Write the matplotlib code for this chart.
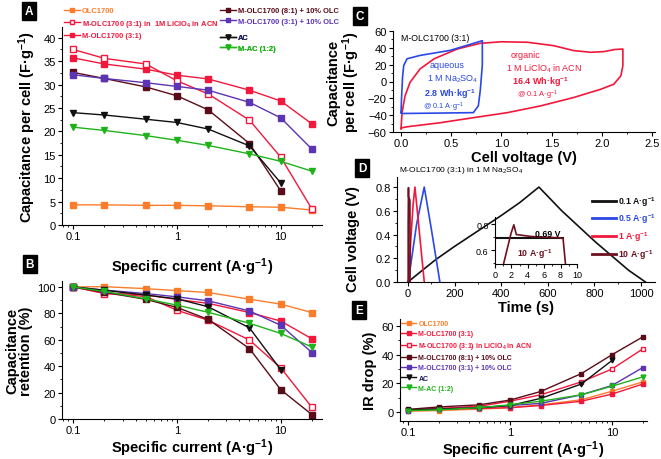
import matplotlib
matplotlib.use("Agg")
import matplotlib.pyplot as plt
from matplotlib.lines import Line2D
from matplotlib.ticker import MultipleLocator, FixedLocator, NullFormatter

plt.rcParams["font.family"] = ["Liberation Sans", "DejaVu Sans"]
plt.rcParams["mathtext.default"] = "regular"

W, H = 661, 460
ORANGE, RED, BROWN, PURPLE = "#fb7d2b", "#f2183c", "#5a0c18", "#5c34b4"
BLACK, GREEN, NAVY = "#111111", "#1fb31a", "#1c1c5c"
BLUE, DRED = "#2a48e6", "#6e1020"

# ---- data ----
current = [0.1, 0.2, 0.5, 1, 2, 5, 10, 20]
names = ["OLC1700", "M-OLC1700 (3:1)", "M-OLC1700 (3:1) in LiClO$_4$ in ACN",
         "M-OLC1700 (8:1) + 10% OLC", "M-OLC1700 (3:1) + 10% OLC", "AC", "M-AC (1:2)"]

capA = {
    "olc": [4.3, 4.3, 4.2, 4.2, 4.1, 3.9, 3.8, 3.2],
    "m31": [35.7, 34.4, 33.3, 32.0, 31.2, 28.8, 26.5, 21.6],
    "m31_org": [37.5, 35.6, 34.4, 30.8, 28.0, 22.4, 14.5, 3.4],
    "m81": [32.6, 31.3, 29.5, 27.6, 24.6, 17.4, 7.3],
    "m31_olc": [32.1, 31.3, 30.4, 29.6, 28.8, 26.2, 22.9, 16.2],
    "ac": [24.0, 23.5, 22.6, 21.9, 20.5, 16.9, 9.0],
    "mac": [20.9, 20.2, 19.1, 18.1, 17.0, 15.2, 13.6, 11.5],
}
retB = {
    "olc": [100, 100.2, 98.7, 97.2, 95.8, 90.7, 87.0, 80.6],
    "m31": [100, 95.5, 94.0, 90.5, 87.6, 80.6, 74.2, 60.7],
    "m31_org": [100, 95.0, 92.8, 82.3, 74.8, 59.8, 38.8, 8.8],
    "m81": [100, 96.0, 90.6, 84.5, 75.4, 53.3, 22.2, 3.3],
    "m31_olc": [100, 97.6, 95.0, 92.5, 89.5, 81.8, 71.0, 50.3],
    "ac": [100, 97.5, 93.8, 91.0, 85.0, 69.0, 37.3],
    "mac": [100, 96.6, 91.0, 86.2, 80.8, 72.5, 64.8, 54.5],
}
irE = {
    "olc": [0.5, 1.0, 2.0, 3.0, 5.0, 8.5, 14.5, 21.0],
    "m31": [1.5, 2.0, 2.5, 3.0, 4.5, 7.5, 12.5, 19.5],
    "m31_org": [1.5, 2.5, 4.0, 7.5, 12.0, 21.0, 30.0, 44.0],
    "m81": [1.8, 3.5, 5.0, 8.3, 14.3, 26.8, 40.0, 52.4],
    "m31_olc": [1.0, 2.0, 3.0, 4.5, 6.0, 12.0, 18.5, 31.0],
    "ac": [1.5, 2.0, 3.0, 4.5, 9.5, 19.5, 36.0],
    "mac": [1.0, 1.5, 3.0, 5.0, 7.5, 12.0, 18.0, 24.5],
}
style = {
    "olc": (ORANGE, "s", ORANGE), "m31": (RED, "s", RED), "m31_org": (RED, "s", "white"),
    "m81": (BROWN, "s", BROWN), "m31_olc": (PURPLE, "s", PURPLE),
    "ac": (BLACK, "v", BLACK), "mac": (GREEN, "v", GREEN),
}
keys = ["olc", "m31", "m31_org", "m81", "m31_olc", "ac", "mac"]
txtcol = {"olc": ORANGE, "m31": RED, "m31_org": RED, "m81": BROWN,
          "m31_olc": PURPLE, "ac": NAVY, "mac": GREEN}

# CV loops (panel C)
cv_aq_v = [0.0, 0.005, 0.015, 0.027, 0.06, 0.19, 0.49, 0.81, 0.81, 0.80, 0.79, 0.77, 0.72, 0.40, 0.01, 0.0]
cv_aq_c = [-37, -20, 5, 19, 27, 31, 37, 48.5, 20, 5, -10, -29, -37, -37.5, -38, -37]
cv_org_v = [0.0, 0.01, 0.04, 0.09, 0.19, 0.33, 0.56, 0.79, 1.0, 1.26, 1.52, 1.72, 1.89, 2.02, 2.13, 2.21,
            2.21, 2.19, 2.12, 1.99, 1.72, 1.39, 1.06, 0.72, 0.39, 0.06, 0.01, 0.0]
cv_org_c = [-56, -37, -17, -1, 15, 27, 38.6, 45.4, 47.2, 46.6, 42.6, 36.7, 34.7, 35.5, 38.0, 38.6,
            18.7, 6.8, -3.2, -9.2, -19, -29, -37, -43, -49, -53.8, -55, -56]

# galvanostatic curves (panel D)
t01 = [0, 50, 120, 200, 300, 400, 480, 562, 660, 803, 946, 1019]
v01 = [0, 0.08, 0.19, 0.30, 0.43, 0.56, 0.67, 0.80, 0.60, 0.34, 0.10, 0.0]
t05 = [2, 4, 16, 37, 55, 70, 100, 137]
v05 = [0, 0.04, 0.20, 0.485, 0.66, 0.80, 0.45, 0.0]
t1 = [3, 5, 12, 22, 30, 45, 70]
v1 = [0, 0.05, 0.35, 0.65, 0.80, 0.50, 0.0]
t10 = [0.9, 1.04, 1.96, 2.3, 2.6, 4.4, 7.7, 8.3, 8.6, 9.0]
v10 = [0.0, 0.493, 0.73, 0.795, 0.72, 0.705, 0.695, 0.69, 0.49, 0.0]
v_plateau = 0.69
t_plateau = [0, 8.3]


def box(l, t, r, b):
    return [l / W, 1 - b / H, (r - l) / W, (b - t) / H]


def prep(ax, size=8):
    for s in ("top", "right"):
        ax.spines[s].set_visible(False)
    ax.tick_params(which="major", direction="out", length=3, labelsize=size, pad=1.5)
    ax.tick_params(which="minor", direction="out", length=1.5)


def tag(x, y, s):
    fig.text(x / W, 1 - y / H, s, color="white", fontsize=8.5, fontweight="bold",
             ha="center", va="center",
             bbox=dict(boxstyle="square,pad=0.25", fc="black", ec="black"))


def handle(k, lw=1.0):
    c, m, fc = style[k]
    return Line2D([], [], color=c, marker=m, mfc=fc, mec=c, ms=3.5, lw=lw)


def series(ax, data, ms=3.8):
    for k in keys:
        c, m, fc = style[k]
        y = data[k]
        ax.plot(current[:len(y)], y, color=c, marker=m, mfc=fc, mec=c, ms=ms, lw=1.0)


def logx(ax, lo, hi):
    ax.set_xscale("log")
    ax.set_xlim(lo, hi)
    ax.set_xticks([0.1, 1, 10])
    ax.set_xticklabels(["0.1", "1", "10"])
    ax.xaxis.set_minor_formatter(NullFormatter())


fig = plt.figure(figsize=(W / 100, H / 100), dpi=100)
XL = "Specific current (A·g$^{-1}$)"
LBL = dict(fontsize=10.5, fontweight="bold")

# ---- A ----
ax = fig.add_axes(box(62, 28, 322, 226))
prep(ax)
series(ax, capA)
logx(ax, 0.078, 25)
ax.set_ylim(0, 42.3)
ax.yaxis.set_major_locator(MultipleLocator(5))
ax.yaxis.set_minor_locator(MultipleLocator(2.5))
ax.set_ylabel("Capacitance per cell (F·g$^{-1}$)", labelpad=4, **LBL)
ax.set_xlabel(XL, labelpad=10, **LBL)
lp = dict(frameon=False, prop={"size": 5.4, "weight": "bold"}, handlelength=2.1,
          handletextpad=0.3, labelspacing=0.45, borderpad=0, borderaxespad=0,
          bbox_transform=fig.transFigure, loc="upper left")
groups = [(["olc", "m31_org", "m31"], (64, 8)), (["m81", "m31_olc"], (220, 8)), (["ac", "mac"], (220, 35))]
labA = {"olc": "OLC1700", "m31": "M-OLC1700 (3:1)", "m31_org": "M-OLC1700 (3:1) in  1M LiClO$_4$ in ACN",
        "m81": "M-OLC1700 (8:1) + 10% OLC", "m31_olc": "M-OLC1700 (3:1) + 10% OLC", "ac": "AC", "mac": "M-AC (1:2)"}
for ks, (px, py) in groups:
    leg = ax.legend([handle(k) for k in ks], [labA[k] for k in ks],
                    labelcolor=[txtcol[k] for k in ks], bbox_to_anchor=(px / W, 1 - py / H), **lp)
    ax.add_artist(leg)
tag(29, 12, "A")

# ---- B ----
ax = fig.add_axes(box(62, 282, 322, 420))
prep(ax)
series(ax, retB)
logx(ax, 0.078, 25)
ax.set_ylim(0, 104.5)
ax.yaxis.set_major_locator(MultipleLocator(20))
ax.yaxis.set_minor_locator(MultipleLocator(10))
ax.set_ylabel("Capacitance\nretention (%)", labelpad=3, linespacing=1.0, **LBL)
ax.set_xlabel(XL, labelpad=1, **LBL)
tag(30, 265, "B")

# ---- C ----
ax = fig.add_axes(box(393, 32, 655, 133))
prep(ax)
ax.plot(cv_org_v, cv_org_c, color=RED, lw=1.2)
ax.plot(cv_aq_v, cv_aq_c, color=BLUE, lw=1.2)
ax.set_xlim(-0.08, 2.53)
ax.set_ylim(-60, 60)
ax.yaxis.set_major_locator(MultipleLocator(20))
ax.yaxis.set_minor_locator(MultipleLocator(10))
ax.xaxis.set_major_locator(MultipleLocator(0.5))
ax.xaxis.set_minor_locator(MultipleLocator(0.25))
ax.xaxis.set_major_formatter(lambda v, p: f"{v:.1f}")
ax.set_ylabel("Capacitance\nper cell (F·g$^{-1}$)", labelpad=4, linespacing=1.0, **LBL)
ax.set_xlabel("Cell voltage (V)", labelpad=1, **LBL)
ax.text(0.0, 58, "M-OLC1700 (3:1)", fontsize=6.3, va="top", ha="left")
ax.text(0.46, 20, "aqueous", color=BLUE, fontsize=6.5, ha="center", va="center")
ax.text(0.51, 3.5, "1 M Na$_2$SO$_4$", color=BLUE, fontsize=6.5, ha="center", va="center")
ax.text(0.49, -13.5, "2.8 Wh·kg$^{-1}$", color=BLUE, fontsize=6.5, fontweight="bold", ha="center", va="center")
ax.text(0.42, -29, "@ 0.1 A·g$^{-1}$", color=BLUE, fontsize=5.3, ha="center", va="center")
ax.text(1.24, 32, "organic", color=RED, fontsize=6.5, ha="center", va="center")
ax.text(1.42, 16.5, "1 M LiClO$_4$ in ACN", color=RED, fontsize=6.5, ha="center", va="center")
ax.text(1.39, 0, "16.4 Wh·kg$^{-1}$", color=RED, fontsize=6.5, fontweight="bold", ha="center", va="center")
ax.text(1.36, -15.5, "@ 0.1 A·g$^{-1}$", color=RED, fontsize=5.3, ha="center", va="center")
tag(360, 17, "C")

# ---- D ----
ax = fig.add_axes(box(397, 178, 655, 283))
prep(ax)
ax.plot(t01, v01, color=BLACK, lw=1.2)
ax.plot(t05, v05, color=BLUE, lw=1.2)
ax.plot(t1, v1, color=RED, lw=1.2)
ax.plot(t10, v10, color=DRED, lw=1.2)
ax.set_xlim(-47, 1060)
ax.set_ylim(0, 0.885)
ax.xaxis.set_major_locator(MultipleLocator(200))
ax.xaxis.set_minor_locator(MultipleLocator(100))
ax.yaxis.set_major_locator(MultipleLocator(0.2))
ax.yaxis.set_minor_locator(MultipleLocator(0.1))
ax.yaxis.set_major_formatter(lambda v, p: f"{v:.1f}")
ax.set_ylabel("Cell voltage (V)", **LBL)
ax.yaxis.set_label_coords(-0.145, 0.42)
ax.set_xlabel("Time (s)", labelpad=1, **LBL)
ax.text(-40, 0.9, "M-OLC1700 (3:1) in 1 M Na$_2$SO$_4$", fontsize=6, va="bottom", ha="left")
hs = [Line2D([], [], color=c, lw=2) for c in (BLACK, BLUE, RED, DRED)]
ax.legend(hs, ["0.1 A·g$^{-1}$", "0.5 A·g$^{-1}$", "1 A·g$^{-1}$", "10 A·g$^{-1}$"],
          labelcolor=[BLACK, BLUE, RED, DRED], frameon=False,
          prop={"size": 6.3, "weight": "bold"}, handlelength=2.7, handletextpad=0.3,
          labelspacing=0.45, borderpad=0, borderaxespad=0, loc="upper left",
          bbox_to_anchor=(592 / W, 1 - 195 / H), bbox_transform=fig.transFigure)
tag(362, 169, "D")

ins = fig.add_axes(box(495, 218, 577, 265))
prep(ins, size=6.5)
ins.plot(t_plateau, [v_plateau, v_plateau], color=BLACK, lw=1.5)
ins.plot(t10, v10, color=DRED, lw=1.2)
ins.set_xlim(0, 10)
ins.set_ylim(0.493, 0.855)
ins.xaxis.set_major_locator(MultipleLocator(2))
ins.xaxis.set_minor_locator(MultipleLocator(1))
ins.yaxis.set_major_locator(FixedLocator([0.6, 0.8]))
ins.yaxis.set_minor_locator(MultipleLocator(0.1))
ins.patch.set_alpha(0)
ins.text(6.45, 0.728, "0.69 V", fontsize=6.3, fontweight="bold", ha="center", va="center")
ins.text(4.8, 0.578, "10 A·g$^{-1}$", color=DRED, fontsize=6.3, fontweight="bold", ha="center", va="center")

# ---- E ----
ax = fig.add_axes(box(400, 320, 647, 422))
prep(ax)
series(ax, irE, ms=3.5)
logx(ax, 0.0835, 22)
ax.set_ylim(-6.3, 64.9)
ax.yaxis.set_major_locator(MultipleLocator(20))
ax.yaxis.set_minor_locator(MultipleLocator(10))
ax.set_ylabel("IR drop (%)", labelpad=3, **LBL)
ax.set_xlabel(XL, labelpad=1, **LBL)
ax.legend([handle(k) for k in keys], [names[i] for i in range(7)],
          labelcolor=[txtcol[k] for k in keys], frameon=False,
          prop={"size": 5.0, "weight": "bold"}, handlelength=2.2, handletextpad=0.3,
          labelspacing=0.45, borderpad=0, borderaxespad=0, loc="upper left",
          bbox_to_anchor=(401 / W, 1 - 321 / H), bbox_transform=fig.transFigure)
tag(359, 311, "E")

fig.savefig("out.png", dpi=100)
